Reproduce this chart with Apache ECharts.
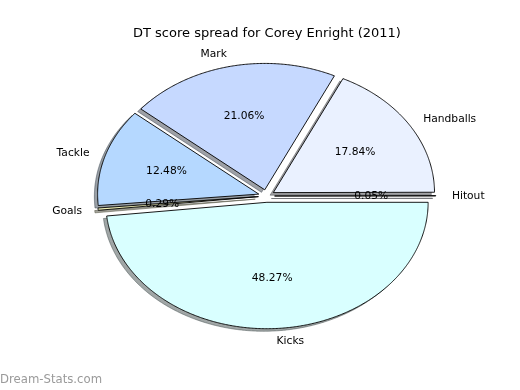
<!DOCTYPE html>
<html>
<head>
<meta charset="utf-8">
<script src="https://cdn.jsdelivr.net/npm/echarts@6/dist/echarts.min.js"></script>
<style>
html,body{margin:0;padding:0;background:#fff;}
#main{width:520px;height:390px;}
</style>
</head>
<body>
<div id="main"></div>
<script>
const titleText = 'DT score spread for Corey Enright (2011)';
const categories = ['Hitout', 'Handballs', 'Mark', 'Tackle', 'Goals', 'Kicks'];
const values = [0.05, 17.84, 21.06, 12.48, 0.29, 48.27];
const colors = ['#EAF1FF', '#EAF1FF', '#C6D9FF', '#B5D8FF', '#F2F2B8', '#D9FFFF'];
const explode = [0.05, 0.05, 0.05, 0.05, 0.05, 0.05];

const FONT = 'DejaVu Sans';
const total = values.reduce((a, b) => a + b, 0);
const starts = [];
let acc = 0;
values.forEach(v => { starts.push(acc / total * 360); acc += v; });

function hexToRgb(h) {
  const n = parseInt(h.slice(1), 16);
  return [(n >> 16) & 255, (n >> 8) & 255, n & 255];
}

function renderItem(params, api) {
  const i = params.dataIndex;
  const t1 = starts[i];
  const t2 = t1 + values[i] / total * 360;
  const tm = (t1 + t2) / 2 * Math.PI / 180;
  const cx = explode[i] * Math.cos(tm);
  const cy = explode[i] * Math.sin(tm);
  const pts = [[cx, cy]];
  const n = Math.max(2, Math.ceil((t2 - t1) / 0.5));
  for (let k = 0; k <= n; k++) {
    const a = (t1 + (t2 - t1) * k / n) * Math.PI / 180;
    pts.push([cx + Math.cos(a), cy + Math.sin(a)]);
  }
  const px = pts.map(p => api.coord(p));
  const sh = pts.map(p => api.coord([p[0] - 0.02, p[1] - 0.02]));
  const rgb = hexToRgb(colors[i]);
  const shColor = 'rgba(' + rgb.map(c => Math.round(c * 0.3)).join(',') + ',0.5)';
  const lab = api.coord([cx + 1.1 * Math.cos(tm), cy + 1.1 * Math.sin(tm)]);
  const pct = api.coord([cx + 0.6 * Math.cos(tm), cy + 0.6 * Math.sin(tm)]);
  const pctText = (values[i] / total * 100).toFixed(2) + '%';
  return {
    type: 'group',
    children: [
      { type: 'polygon', z2: 1, shape: { points: sh },
        style: { fill: shColor, stroke: shColor, lineWidth: 1 } },
      { type: 'polygon', z2: 10, shape: { points: px },
        style: { fill: colors[i], stroke: '#000', lineWidth: 0.9 } },
      { type: 'text', z2: 20, x: lab[0], y: lab[1] + 0.5,
        style: { text: categories[i], fill: '#000', font: '10.7px "' + FONT + '"',
          align: Math.cos(tm) > 0 ? 'left' : 'right', verticalAlign: 'middle' } },
      { type: 'text', z2: 30, x: pct[0], y: pct[1],
        style: { text: pctText, fill: '#000', font: '10.7px "' + FONT + '"',
          align: 'center', verticalAlign: 'middle' } }
    ]
  };
}

const chart = echarts.init(document.getElementById('main'), null, { renderer: 'canvas' });
chart.setOption({
  animation: false,
  backgroundColor: '#fff',
  title: {
    text: titleText, left: 128, top: 22,
    textStyle: { fontFamily: FONT, fontSize: 13, fontWeight: 'normal', color: '#000' }
  },
  grid: { left: 65, right: 52, top: 38, bottom: 36 },
  xAxis: { type: 'value', min: -1.25, max: 1.25, show: false },
  yAxis: { type: 'value', min: -1.25, max: 1.25, show: false },
  graphic: [{
    type: 'text', left: 0, top: 374,
    style: { text: 'Dream-Stats.com', fill: '#9a9a9a', font: '11.7px "' + FONT + '"' }
  }],
  series: [{
    type: 'custom',
    coordinateSystem: 'cartesian2d',
    renderItem: renderItem,
    data: categories.map((c, i) => [0, 0, i]),
    clip: false,
    silent: true
  }]
});
</script>
</body>
</html>
